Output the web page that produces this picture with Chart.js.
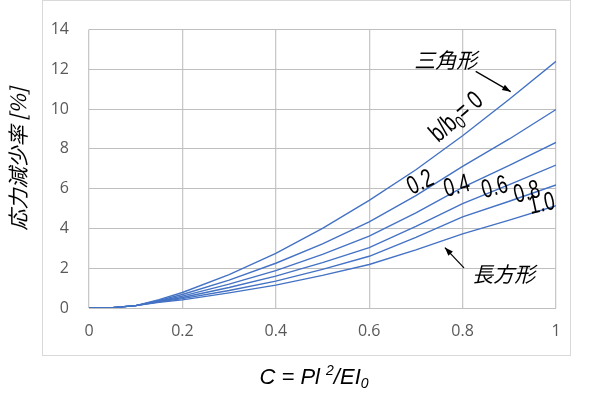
<!DOCTYPE html>
<html>
<head>
<meta charset="utf-8">
<script src="https://cdn.jsdelivr.net/npm/chart.js@4"></script>
<style>
  html, body { margin: 0; padding: 0; background: #fff; }
  #wrap { width: 600px; height: 399px; position: relative; }
</style>
</head>
<body>
<div id="wrap"><canvas id="c"></canvas></div>
<script>
// x = C = Pl^2/EI0
const cValues = [0, 0.05, 0.1, 0.15, 0.2, 0.3, 0.4, 0.5, 0.6, 0.7, 0.8, 0.9, 1.0];

// 応力減少率 [%] for b/b0 = 0 ... 1.0
const ratio00 = [0, 0.02, 0.12, 0.42, 0.78, 1.68, 2.75, 4.00, 5.41, 6.95, 8.66, 10.50, 12.40];
const ratio02 = [0, 0.02, 0.12, 0.38, 0.68, 1.40, 2.25, 3.22, 4.33, 5.65, 7.12, 8.50, 9.98];
const ratio04 = [0, 0.02, 0.12, 0.35, 0.60, 1.20, 1.88, 2.70, 3.61, 4.78, 6.07, 7.17, 8.33];
const ratio06 = [0, 0.02, 0.12, 0.33, 0.53, 1.03, 1.60, 2.28, 3.04, 4.10, 5.25, 6.20, 7.19];
const ratio08 = [0, 0.02, 0.12, 0.31, 0.47, 0.88, 1.35, 1.94, 2.60, 3.55, 4.58, 5.37, 6.19];
const ratio10 = [0, 0.02, 0.12, 0.29, 0.41, 0.76, 1.15, 1.64, 2.19, 2.92, 3.73, 4.42, 5.14];

const seriesList = [ratio00, ratio02, ratio04, ratio06, ratio08, ratio10];

const xTickLabels = ['0', '0.2', '0.4', '0.6', '0.8', '1'];
const yTickLabels = ['0', '2', '4', '6', '8', '10', '12', '14'];

const lineColor = '#4472C4';

const datasets = seriesList.map(s => ({
    data: s.map((v, i) => ({ x: cValues[i], y: v })),
    borderColor: lineColor,
    borderWidth: 1.4,
    pointRadius: 0,
    tension: 0,
    fill: false
}));

// テキスト注記 (位置はデータ座標)
const bLabels = [
    { text: '0.2', x: 0.710, y: 6.29, rot: -25 },
    { text: '0.4', x: 0.788, y: 6.10, rot: -15 },
    { text: '0.6', x: 0.869, y: 6.04, rot: -15 },
    { text: '0.8', x: 0.938, y: 5.80, rot: -15 },
    { text: '1.0', x: 0.970, y: 5.22, rot: -12 }
];

function arrow(ctx, x1, y1, x2, y2) {
    const a = Math.atan2(y2 - y1, x2 - x1);
    ctx.beginPath();
    ctx.moveTo(x1, y1);
    ctx.lineTo(x2, y2);
    ctx.stroke();
    ctx.beginPath();
    ctx.moveTo(x2, y2);
    ctx.lineTo(x2 - 9 * Math.cos(a - 0.35), y2 - 9 * Math.sin(a - 0.35));
    ctx.lineTo(x2 - 9 * Math.cos(a + 0.35), y2 - 9 * Math.sin(a + 0.35));
    ctx.closePath();
    ctx.fill();
}

const decorPlugin = {
    id: 'decor',
    afterDraw(chart) {
        const ctx = chart.ctx;
        const xs = chart.scales.x, ys = chart.scales.y;
        const px = v => xs.getPixelForValue(v);
        const py = v => ys.getPixelForValue(v);
        ctx.save();

        // 外枠
        ctx.strokeStyle = '#d9d9d9';
        ctx.lineWidth = 1;
        ctx.strokeRect(42.5, 0.5, 528, 355);

        ctx.fillStyle = '#000';
        ctx.strokeStyle = '#000';
        ctx.textBaseline = 'middle';
        ctx.textAlign = 'center';

        // 三角形 + 矢印
        ctx.font = 'italic 21px "Noto Sans CJK JP"';
        ctx.fillText('三角形', px(0.764), py(12.48));
        ctx.lineWidth = 1.2;
        arrow(ctx, px(0.828), py(11.9), px(0.903), py(10.88));

        // 長方形 + 矢印
        ctx.fillText('長方形', px(0.888), py(1.69));
        arrow(ctx, px(0.803), py(2.02), px(0.762), py(3.04));

        // b/b0 = 0
        ctx.save();
        ctx.translate(px(0.785), py(9.65));
        ctx.rotate(-41 * Math.PI / 180);
        ctx.scale(0.74, 1);
        ctx.textAlign = 'left';
        ctx.textBaseline = 'alphabetic';
        ctx.font = '26px "Liberation Sans"';
        let w1 = ctx.measureText('b/b').width;
        ctx.font = '18px "Liberation Sans"';
        let w2 = ctx.measureText('0').width;
        ctx.font = '26px "Liberation Sans"';
        let w3 = ctx.measureText('= 0').width;
        let x0 = -(w1 + w2 + w3) / 2;
        ctx.fillText('b/b', x0, 9);
        ctx.font = '18px "Liberation Sans"';
        ctx.fillText('0', x0 + w1, 14);
        ctx.font = '26px "Liberation Sans"';
        ctx.fillText('= 0', x0 + w1 + w2, 9);
        ctx.restore();

        // 0.2 ... 1.0
        ctx.font = '26px "Liberation Sans"';
        bLabels.forEach(l => {
            ctx.save();
            ctx.translate(px(l.x), py(l.y));
            ctx.rotate(l.rot * Math.PI / 180);
            ctx.scale(0.72, 1);
            ctx.fillText(l.text, 0, 0);
            ctx.restore();
        });

        // 縦軸タイトル
        ctx.save();
        ctx.translate(18, 159);
        ctx.rotate(-Math.PI / 2);
        ctx.font = 'italic 21px "Noto Sans CJK JP"';
        ctx.fillText('応力減少率 [%]', 0, 0);
        ctx.restore();

        // 横軸タイトル C = Pl²/EI0
        ctx.textAlign = 'left';
        ctx.textBaseline = 'alphabetic';
        const big = 'italic 22px "Liberation Sans"';
        const small = 'italic 14px "Liberation Sans"';
        const parts = [
            { t: 'C = Pl ', f: big, dy: 0 },
            { t: '2', f: small, dy: -9 },
            { t: '/EI', f: big, dy: 0 },
            { t: '0', f: small, dy: 4 }
        ];
        let total = 0;
        parts.forEach(p => { ctx.font = p.f; p.w = ctx.measureText(p.t).width; total += p.w; });
        let cx = 314 - total / 2;
        parts.forEach(p => {
            ctx.font = p.f;
            ctx.fillText(p.t, cx, 384 + p.dy);
            cx += p.w;
        });

        ctx.restore();
    }
};

new Chart(document.getElementById('c'), {
    type: 'line',
    data: { datasets: datasets },
    options: {
        responsive: true,
        maintainAspectRatio: false,
        animation: false,
        layout: { padding: { left: 0, right: 44, top: 19, bottom: 0 } },
        plugins: {
            legend: { display: false },
            tooltip: { enabled: false }
        },
        scales: {
            x: {
                type: 'linear',
                min: 0,
                max: 1,
                afterFit: s => { s.height = 91; },
                ticks: {
                    stepSize: 0.2,
                    padding: 14,
                    color: '#595959',
                    font: { family: '"Open Sans"', size: 16 },
                    callback: (v, i) => xTickLabels[i]
                },
                grid: { color: '#c8c8c8', lineWidth: 1.3, drawTicks: false },
                border: { display: false }
            },
            y: {
                min: 0,
                max: 14,
                afterFit: s => { s.width = 89; },
                ticks: {
                    stepSize: 2,
                    padding: 20,
                    color: '#595959',
                    font: { family: '"Open Sans"', size: 16 },
                    callback: (v, i) => yTickLabels[i]
                },
                grid: { color: '#bfbfbf', lineWidth: 1, drawTicks: false },
                border: { display: false }
            }
        }
    },
    plugins: [decorPlugin]
});
</script>
</body>
</html>
